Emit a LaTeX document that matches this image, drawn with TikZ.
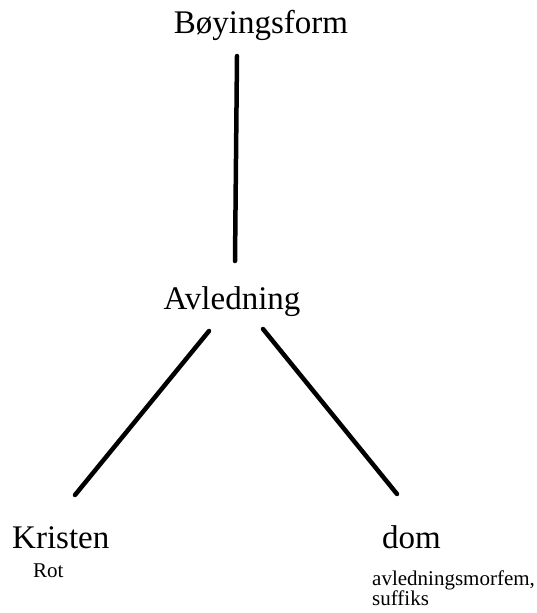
\documentclass[tikz,border=0pt]{standalone}
\usepackage{fontspec}
\setmainfont{Liberation Serif}
\begin{document}
\begin{tikzpicture}[x=1pt,y=-1pt,
  big/.style={inner sep=0pt,font=\fontsize{33}{38}\selectfont},
  small/.style={inner sep=0pt,font=\fontsize{21}{21}\selectfont},
  edge/.style={line width=4.5pt,line cap=round}]
\useasboundingbox (0,0) rectangle (537,613);
\node[big,anchor=base] (top) at (261,33) {Bøyingsform};
\node[big,anchor=base] (avl) at (232,309) {Avledning};
\node[big,anchor=base west] (kri) at (12,548) {Kristen};
\node[big,anchor=base west] (dom) at (382,548) {dom};
\node[small,anchor=base west] (rot) at (33,577) {Rot};
\node[small,anchor=base west] (suf) at (372,585) {avledningsmorfem,};
\node[small,anchor=base west] (suf2) at (372,605) {suffiks};
\coordinate (t1) at (237,56);
\coordinate (t2) at (235,261);
\coordinate (l1) at (209,331);
\coordinate (l2) at (75,495);
\coordinate (r1) at (263,329);
\coordinate (r2) at (397,494);
\draw[edge] (t1) -- (t2);
\draw[edge] (l1) -- (l2);
\draw[edge] (r1) -- (r2);
\end{tikzpicture}
\end{document}
